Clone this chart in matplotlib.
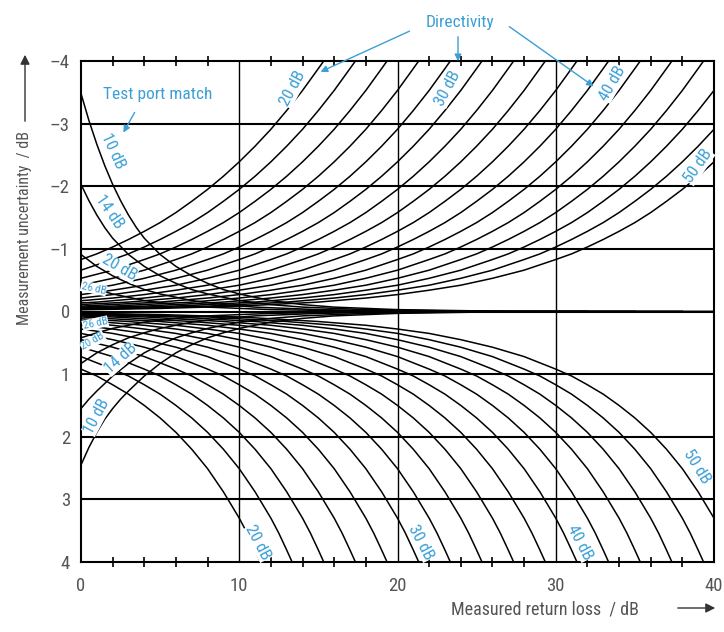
import numpy as np
import matplotlib as mpl
mpl.use('Agg')
from matplotlib import pyplot as plt

# ---------------------------------------------------------------------------
# data
# ---------------------------------------------------------------------------

# directivity family: each curve is the same shape, placed at x = directivity - offset
directivity_db = [20, 22, 24, 26, 28, 30, 32, 34, 36, 38, 40, 42, 44, 46, 48, 50]

dir_up_offset = [4.66, 5, 6, 7, 8, 9, 10, 11, 12, 13, 14, 15, 16, 17, 18, 19, 20,
                 22, 24, 26, 28, 30, 32, 35, 40, 45, 50]
dir_up_db = [-4.00, -3.88, -3.53, -3.21, -2.91, -2.64, -2.39, -2.16, -1.95, -1.76,
             -1.58, -1.42, -1.28, -1.15, -1.03, -0.92, -0.83, -0.66, -0.53, -0.42,
             -0.34, -0.27, -0.215, -0.15, -0.086, -0.049, -0.027]

dir_lo_offset = [8.66, 9, 9.5, 10, 11, 12, 13, 14, 15, 16, 17, 18, 19, 20, 22, 24,
                 26, 28, 30, 32, 35, 40, 45, 50]
dir_lo_db = [4.00, 3.81, 3.54, 3.30, 2.88, 2.51, 2.20, 1.93, 1.70, 1.50, 1.32, 1.17,
             1.03, 0.92, 0.72, 0.57, 0.45, 0.35, 0.28, 0.22, 0.16, 0.087, 0.049, 0.028]

# test port match family: placed at x = (sum - match) / 2
port_match_db = [10, 14, 20, 26]
port_sum = [10, 11, 12, 13, 14, 15, 16, 17, 18, 20, 22, 24, 26, 28, 30, 34, 38, 42,
            50, 60, 70, 90]
port_up_db = [-3.48, -3.05, -2.67, -2.33, -2.03, -1.77, -1.54, -1.34, -1.17, -0.91,
              -0.72, -0.57, -0.45, -0.35, -0.28, -0.175, -0.11, -0.07, -0.03, -0.01,
              0.0, 0.0]
port_lo_db = [2.45, 2.17, 1.93, 1.72, 1.55, 1.40, 1.27, 1.15, 1.03, 0.83, 0.66, 0.53,
              0.42, 0.34, 0.27, 0.17, 0.11, 0.07, 0.03, 0.01, 0.0, 0.0]

x_ticks = [0, 10, 20, 30, 40]
y_ticks = [-4, -3, -2, -1, 0, 1, 2, 3, 4]

# ---------------------------------------------------------------------------
W, H = 724, 632
blue = '#3b9fd5'
grey = '#555555'
plt.rcParams['font.family'] = ['Roboto Condensed', 'DejaVu Sans']


def fp(px, py):
    # top-left pixel -> figure fraction
    return (px / W, 1 - py / H)


fig = plt.figure(figsize=(W / 100, H / 100), dpi=100)
fig.patch.set_facecolor('white')
ax = fig.add_axes([81 / W, 1 - 562 / H, (714 - 81) / W, (562 - 61) / H])

lw = 1.1
for d in directivity_db:
    ax.plot(d - np.array(dir_up_offset), dir_up_db, color='k', lw=lw)
    ax.plot(d - np.array(dir_lo_offset), dir_lo_db, color='k', lw=lw)

for m in port_match_db:
    xs = (np.array(port_sum) - m) / 2.0
    ax.plot(xs, port_up_db, color='k', lw=lw)
    ax.plot(xs, port_lo_db, color='k', lw=lw)

for yv in y_ticks[1:-1]:
    ax.axhline(yv, color='k', lw=1.5, zorder=1)
for xv in x_ticks[1:-1]:
    ax.axvline(xv, color='k', lw=1.0, zorder=1)

ax.set_xlim(0, 40)
ax.set_ylim(4, -4)
for sp in ax.spines.values():
    sp.set_linewidth(1.5)

ax.set_xticks(x_ticks)
ax.set_xticks(np.arange(2, 40, 2), minor=True)
ax.set_yticks(y_ticks)
ax.set_yticklabels([str(v).replace('-', '\u2013') for v in y_ticks])
ax.tick_params(axis='x', which='major', length=0, pad=11, labelsize=13.5, labelcolor=grey)
ax.tick_params(axis='x', which='minor', direction='inout', length=7, width=1.2,
               top=True, bottom=True)
ax.tick_params(axis='y', which='major', length=0, pad=8, labelsize=13.5, labelcolor=grey)

# axis titles with arrows
fig.text(*fp(25, 228), 'Measurement uncertainty  / dB', rotation=90, ha='center',
         va='center', fontsize=11.5, color=grey)
ax.annotate('', xy=fp(25, 52), xytext=fp(25, 124), xycoords='figure fraction',
            arrowprops=dict(arrowstyle='-|>', color='#333333', lw=1, mutation_scale=14))
fig.text(*fp(545, 609), 'Measured return loss  / dB', ha='center', va='center',
         fontsize=13, color=grey)
ax.annotate('', xy=fp(718, 608), xytext=fp(675, 608), xycoords='figure fraction',
            arrowprops=dict(arrowstyle='-|>', color='#333333', lw=1, mutation_scale=14))

# callouts
fig.text(*fp(460, 22), 'Directivity', ha='center', va='center', fontsize=12.5, color=blue)
for start, end in [((412, 30), (318, 73)), ((458, 34), (458, 64)), ((507, 25), (596, 88))]:
    ax.annotate('', xy=fp(*end), xytext=fp(*start), xycoords='figure fraction',
                arrowprops=dict(arrowstyle='-|>', color=blue, lw=1, mutation_scale=10))
fig.text(*fp(158, 95), 'Test port match', ha='center', va='center', fontsize=12.5,
         color=blue)
ax.annotate('', xy=fp(122, 135), xytext=fp(136, 110), xycoords='figure fraction',
            arrowprops=dict(arrowstyle='-|>', color=blue, lw=1, mutation_scale=10))

# curve labels
box = dict(facecolor='white', edgecolor='none', pad=0.3)
labels = [
    (13.4, -3.56, '20 dB', 62, 12),
    (23.2, -3.56, '30 dB', 62, 12),
    (33.6, -3.64, '40 dB', 60, 12),
    (39.0, -2.32, '50 dB', 55, 12),
    (2.0, -2.56, '10 dB', -65, 12),
    (1.8, -1.60, '14 dB', -55, 12),
    (2.4, -0.70, '20 dB', -30, 12),
    (0.8, -0.37, '26 dB', -12, 8),
    (0.9, 0.19, '26 dB', 12, 8),
    (0.75, 0.48, '20 dB', 30, 8),
    (2.5, 0.75, '14 dB', 42, 12),
    (1.0, 1.68, '10 dB', 62, 12),
    (11.2, 3.69, '20 dB', -62, 12),
    (21.5, 3.69, '30 dB', -62, 12),
    (31.5, 3.69, '40 dB', -62, 12),
    (38.9, 2.48, '50 dB', -58, 12),
]
for x, y, s, rot, fs in labels:
    ax.text(x, y, s, rotation=rot, ha='center', va='center', fontsize=fs, color=blue,
            bbox=box, zorder=5, rotation_mode='anchor')

fig.savefig('out.png', dpi=100, facecolor='white')
